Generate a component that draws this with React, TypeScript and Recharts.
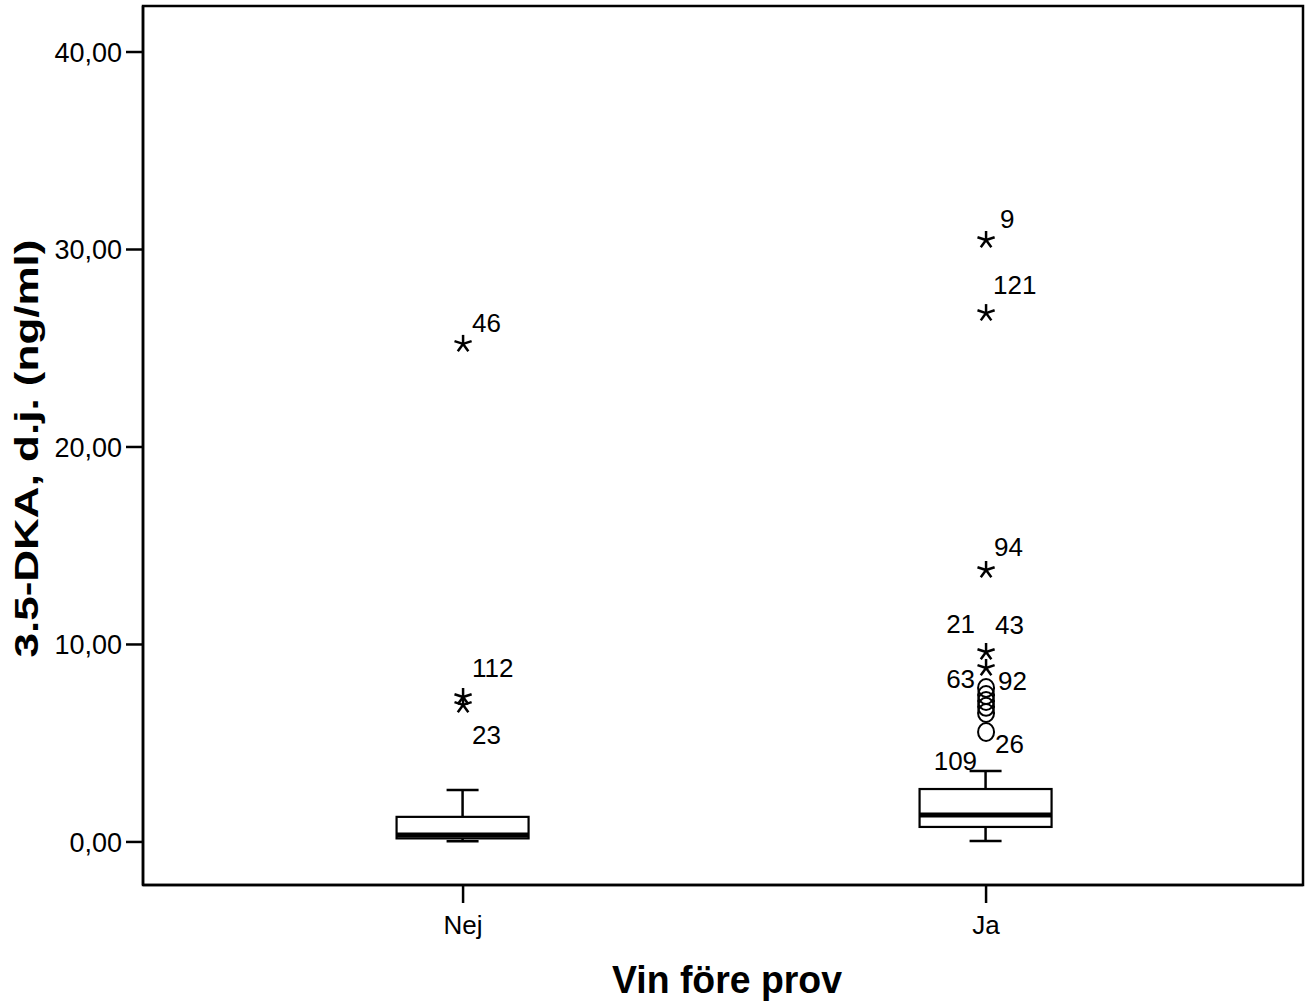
import React from 'react';
import { ComposedChart, Bar, Scatter, XAxis, YAxis, ReferenceArea } from 'recharts';

// group summary
const CATEGORIES = ['Nej', 'Ja'];
const WHISKER_LOW = [0.03, 0.05];
const Q1 = [0.18, 0.76];
const MEDIAN = [0.35, 1.37];
const Q3 = [1.27, 2.68];
const WHISKER_HIGH = [2.63, 3.59];

// extremes (stars) and outliers (circles)
const NEJ_EXTREME_VALUES = [25.22, 7.34, 6.94];
const NEJ_EXTREME_LABELS = ['46', '112', '23'];
const JA_EXTREME_VALUES = [30.48, 26.78, 13.77, 9.62, 8.81];
const JA_EXTREME_LABELS = ['9', '121', '94', '43', '21'];
const JA_OUTLIER_VALUES = [7.8, 7.44, 7.14, 6.84, 6.53, 5.57];
const JA_OUTLIER_LABELS = ['63', '92', '', '', '26', '109'];

const Y_TICKS = [0, 10, 20, 30, 40];
const X_TICKS = [1, 2];
const Y_DOMAIN: [number, number] = [-2.18, 42.33];
const X_DOMAIN: [number, number] = [0.388, 2.606];

// where each case number sits relative to its marker
const LABEL_OFFSETS: Record<string, { dx: number; dy: number; anchor: 'start' | 'end' }> = {
  '46': { dx: 9, dy: -12, anchor: 'start' },
  '112': { dx: 9, dy: -20, anchor: 'start' },
  '23': { dx: 9, dy: 39, anchor: 'start' },
  '9': { dx: 14, dy: -12, anchor: 'start' },
  '121': { dx: 7, dy: -19, anchor: 'start' },
  '94': { dx: 8, dy: -14, anchor: 'start' },
  '43': { dx: 9, dy: -18, anchor: 'start' },
  '21': { dx: -11, dy: -35, anchor: 'end' },
  '63': { dx: -11, dy: 0, anchor: 'end' },
  '92': { dx: 12, dy: -5, anchor: 'start' },
  '26': { dx: 9, dy: 40, anchor: 'start' },
  '109': { dx: -9, dy: 38, anchor: 'end' },
};

const FONT = '"Liberation Sans", Arial, Helvetica, sans-serif';

const boxData = CATEGORIES.map((name, i) => ({
  pos: i + 1,
  name,
  lo: WHISKER_LOW[i],
  q1: Q1[i],
  median: MEDIAN[i],
  q3: Q3[i],
  hi: WHISKER_HIGH[i],
}));

const extremes = [
  ...NEJ_EXTREME_VALUES.map((value, i) => ({ pos: 1, value, label: NEJ_EXTREME_LABELS[i], kind: 'star' })),
  ...JA_EXTREME_VALUES.map((value, i) => ({ pos: 2, value, label: JA_EXTREME_LABELS[i], kind: 'star' })),
];
const outliers = JA_OUTLIER_VALUES.map((value, i) => ({ pos: 2, value, label: JA_OUTLIER_LABELS[i], kind: 'circle' }));

const BoxShape = (props: any) => {
  const { x, y, width, height, payload } = props;
  const { lo, q1, median, q3, hi } = payload;
  // bar spans [lo, hi]; map inner values along it
  const py = (v: number) => y + (height * (hi - v)) / (hi - lo);
  const cx = x + width / 2;
  const cap = 16;
  return (
    <g stroke="#000" fill="none">
      <line x1={cx} x2={cx} y1={py(hi)} y2={py(q3)} strokeWidth={2.5} />
      <line x1={cx} x2={cx} y1={py(q1)} y2={py(lo)} strokeWidth={2.5} />
      <line x1={cx - cap} x2={cx + cap} y1={py(hi)} y2={py(hi)} strokeWidth={2.5} />
      <line x1={cx - cap} x2={cx + cap} y1={py(lo)} y2={py(lo)} strokeWidth={2.5} />
      <rect x={x} y={py(q3)} width={width} height={py(q1) - py(q3)} fill="#fff" strokeWidth={2.2} />
      <line x1={x} x2={x + width} y1={py(median)} y2={py(median)} strokeWidth={5} />
    </g>
  );
};

const PointShape = (props: any) => {
  const { cx, cy, payload } = props;
  const off = LABEL_OFFSETS[payload.label];
  let marker;
  if (payload.kind === 'star') {
    const arms = [-90, -18, 54, 126, 198].map((a) => {
      const r = (a * Math.PI) / 180;
      return <line key={a} x1={cx} y1={cy} x2={cx + 9 * Math.cos(r)} y2={cy + 9 * Math.sin(r)} />;
    });
    marker = <g stroke="#000" strokeWidth={2.5}>{arms}</g>;
  } else {
    marker = <ellipse cx={cx} cy={cy} rx={8} ry={9} fill="none" stroke="#000" strokeWidth={2} />;
  }
  return (
    <g>
      {marker}
      {payload.label && off && (
        <text x={cx + off.dx} y={cy + off.dy} textAnchor={off.anchor} fontSize={26} fontFamily={FONT} fill="#000">
          {payload.label}
        </text>
      )}
    </g>
  );
};

const fmt = (v: number) => v.toFixed(2).replace('.', ',');

export default function App() {
  return (
    <div style={{ position: 'absolute', left: 0, top: 0, width: 1314, height: 1006, background: '#fff' }}>
      <ComposedChart
        width={1314}
        height={1006}
        data={boxData}
        margin={{ top: 6, right: 11, left: 43, bottom: 61 }}
      >
        <XAxis
          dataKey="pos"
          type="number"
          domain={X_DOMAIN}
          allowDataOverflow
          ticks={X_TICKS}
          tickFormatter={(v: number) => CATEGORIES[v - 1]}
          height={60}
          tickSize={18}
          tickMargin={13}
          axisLine={{ stroke: '#000', strokeWidth: 2.5 }}
          tickLine={{ stroke: '#000', strokeWidth: 2.5 }}
          tick={{ fill: '#000', fontSize: 26, fontFamily: FONT }}
          label={(p: any) => {
            const vb = p.viewBox;
            return (
              <text
                x={vb.x + vb.width / 2 + 4}
                y={vb.y + 108}
                textAnchor="middle"
                fontSize={39}
                fontWeight="bold"
                fontFamily={FONT}
                fill="#000"
                textLength={230}
                lengthAdjust="spacingAndGlyphs"
              >
                Vin före prov
              </text>
            );
          }}
        />
        <YAxis
          type="number"
          domain={Y_DOMAIN}
          allowDataOverflow
          ticks={Y_TICKS}
          tickFormatter={fmt}
          width={100}
          tickSize={17}
          tickMargin={4}
          axisLine={{ stroke: '#000', strokeWidth: 2.5 }}
          tickLine={{ stroke: '#000', strokeWidth: 2.5 }}
          tick={{ fill: '#000', fontSize: 27, fontFamily: FONT }}
          label={(p: any) => {
            const vb = p.viewBox;
            const cy = vb.y + vb.height / 2 + 3;
            return (
              <text
                x={38}
                y={cy}
                transform={`rotate(-90, 38, ${cy})`}
                textAnchor="middle"
                fontSize={34}
                fontWeight="bold"
                fontFamily={FONT}
                fill="#000"
                textLength={418}
                lengthAdjust="spacingAndGlyphs"
              >
                3.5-DKA, d.j. (ng/ml)
              </text>
            );
          }}
        />
        <ReferenceArea
          x1={X_DOMAIN[0]}
          x2={X_DOMAIN[1]}
          y1={Y_DOMAIN[0]}
          y2={Y_DOMAIN[1]}
          fill="none"
          stroke="#000"
          strokeWidth={2.5}
        />
        <Bar dataKey={(d: any) => [d.lo, d.hi]} barSize={132} shape={BoxShape} isAnimationActive={false} />
        <Scatter data={outliers} dataKey="value" shape={PointShape} isAnimationActive={false} />
        <Scatter data={extremes} dataKey="value" shape={PointShape} isAnimationActive={false} />
      </ComposedChart>
    </div>
  );
}
